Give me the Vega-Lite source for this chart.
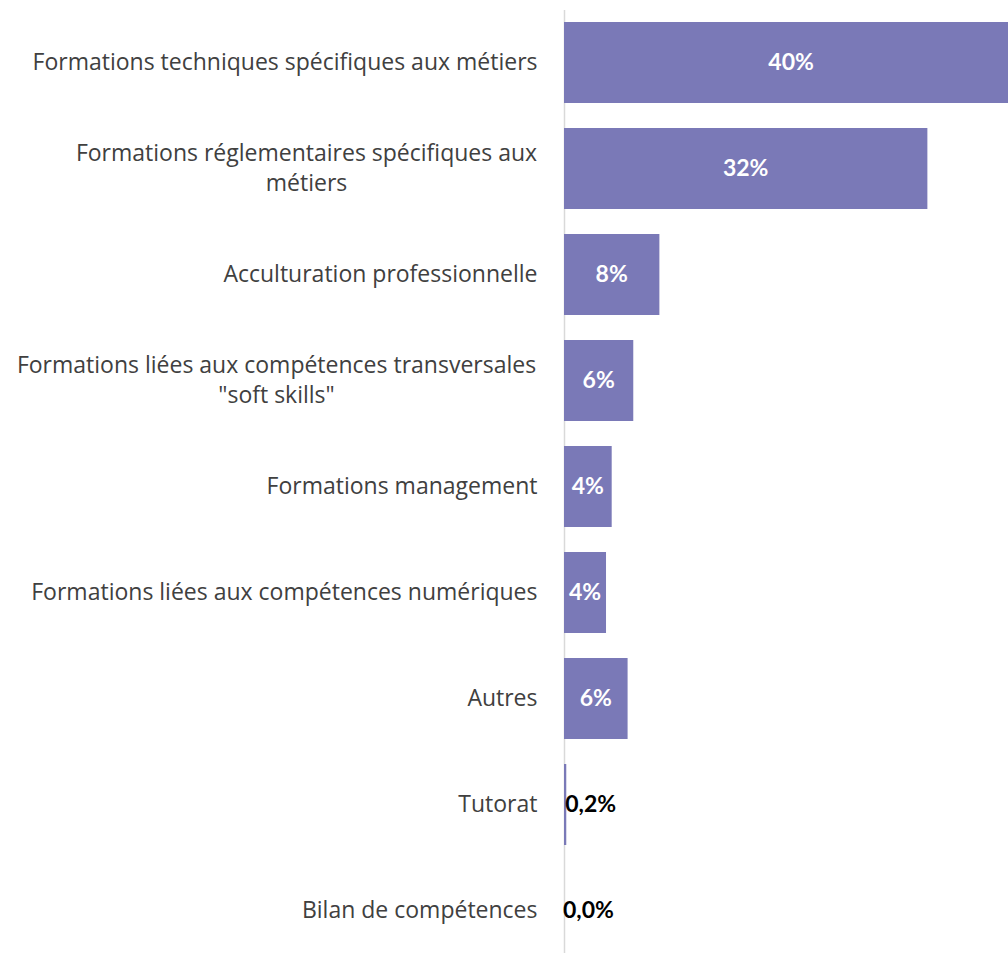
{
  "$schema": "https://vega.github.io/schema/vega-lite/v6.json",
  "width": 444,
  "height": 954,
  "autosize": {"type": "none"},
  "padding": {"left": 564, "top": 9.5, "right": 0, "bottom": 0},
  "background": "white",
  "config": {"view": {"stroke": null}},
  "data": {
    "values": [
      {"categorie": "Formations techniques spécifiques aux métiers", "valeur": 40.0, "etiquette": "40%"},
      {"categorie": "Formations réglementaires spécifiques aux\nmétiers", "valeur": 32.0, "etiquette": "32%"},
      {"categorie": "Acculturation professionnelle", "valeur": 8.4, "etiquette": "8%"},
      {"categorie": "Formations liées aux compétences transversales\n\"soft skills\"", "valeur": 6.1, "etiquette": "6%"},
      {"categorie": "Formations management", "valeur": 4.2, "etiquette": "4%"},
      {"categorie": "Formations liées aux compétences numériques", "valeur": 3.7, "etiquette": "4%"},
      {"categorie": "Autres", "valeur": 5.6, "etiquette": "6%"},
      {"categorie": "Tutorat", "valeur": 0.2, "etiquette": "0,2%"},
      {"categorie": "Bilan de compétences", "valeur": 0.0, "etiquette": "0,0%"}
    ]
  },
  "encoding": {
    "y": {
      "field": "categorie",
      "type": "nominal",
      "sort": null,
      "scale": {"paddingInner": 0.236, "paddingOuter": 0.118},
      "axis": {
        "title": null,
        "ticks": false,
        "grid": false,
        "domainColor": "#d9d9d9",
        "domainWidth": 1.5,
        "labelFont": "Open Sans",
        "labelFontSize": 23,
        "labelColor": "#404040",
        "labelLimit": 0,
        "labelLineHeight": 30,
        "labelExpr": "split(datum.label, '\\n')",
        "labelAlign": {"condition": {"test": "indexof(datum.value, '\\n') >= 0", "value": "center"}, "value": "right"},
        "labelOffset": {"condition": {"test": "indexof(datum.value, '\\n') >= 0", "value": -15}, "value": 0},
        "labelPadding": {"condition": [
          {"test": "indexof(datum.value, 'réglementaires') >= 0", "value": 258},
          {"test": "indexof(datum.value, 'transversales') >= 0", "value": 288}
        ], "value": 27}
      }
    }
  },
  "layer": [
    {
      "mark": {"type": "bar", "color": "#7a79b7", "clip": true},
      "encoding": {
        "x": {"field": "valeur", "type": "quantitative", "scale": {"domain": [0, 39.1], "nice": false}, "axis": null}
      }
    },
    {
      "transform": [{"filter": "datum.valeur >= 1"}],
      "mark": {"type": "text", "color": "white", "font": "Lato", "fontWeight": "bold", "fontSize": 23, "align": "center", "baseline": "middle"},
      "encoding": {
        "x": {"field": "valeur", "type": "quantitative", "scale": {"domain": [0, 78.2], "nice": false}, "axis": null},
        "text": {"field": "etiquette"}
      }
    },
    {
      "transform": [{"filter": "datum.valeur < 1"}],
      "mark": {"type": "text", "color": "black", "font": "Lato", "fontWeight": "bold", "fontSize": 23, "align": "left", "baseline": "middle", "dx": -1},
      "encoding": {
        "x": {"field": "valeur", "type": "quantitative", "scale": {"domain": [0, 39.1], "nice": false}, "axis": null},
        "text": {"field": "etiquette"}
      }
    }
  ],
  "resolve": {"scale": {"x": "independent"}}
}
